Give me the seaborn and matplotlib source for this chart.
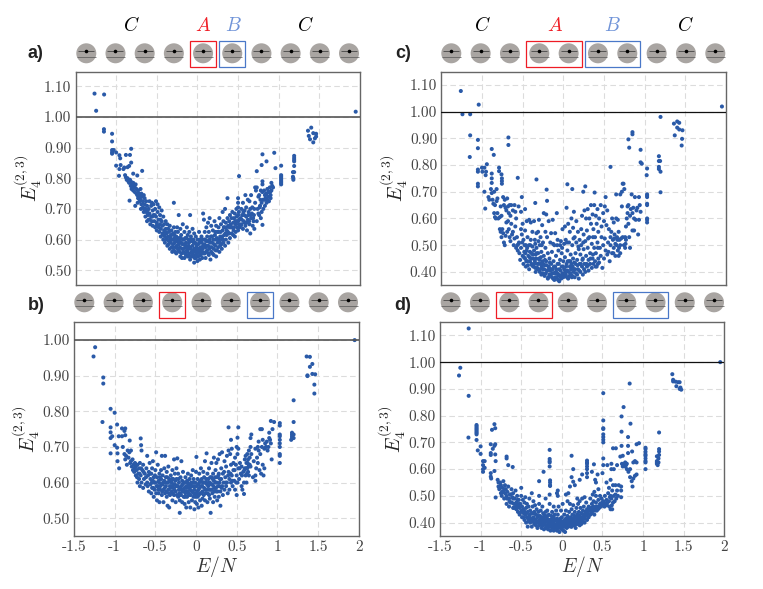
import pandas as pd
import matplotlib.pyplot as plt
import matplotlib.patches as mpatches
import seaborn as sns

# values: (E/N, E4)
pts_a = [
    (-1.266,1.076),(-1.148,1.073),(-1.246,1.02),(1.947,1.017),(-1.15,.96),(-1.15,.952),(-1.05,.945),(-1.05,.92),
    (-1.05,.892),(-1.05,.885),(-1.05,.88),(-1.03,.892),(-1.0,.884),(-.96,.875),(-.95,.865),(-1.0,.841),(-.945,.843),
    (-.965,.808),(-.96,.83),(-.91,.83),(-.88,.876),(-.83,.876),(-.815,.896),(-.815,.851),(-.86,.836),(-.79,.815),
    (-.74,.809),(-.68,.824),(-.835,.727),(-.765,.71),(-.9,.835),(-.84,.84),(-.89,.81),
    (-.88,.803),(-.87,.795),(-.86,.80),(-.85,.79),(-.84,.785),(-.83,.795),(-.82,.775),(-.82,.79),(-.81,.765),(-.80,.78),
    (-.80,.77),(-.79,.785),(-.79,.76),(-.78,.775),(-.77,.755),(-.77,.77),(-.76,.78),(-.75,.75),(-.75,.765),(-.74,.745),
    (-.73,.76),(-.73,.735),(-.72,.75),(-.71,.74),(-.71,.725),(-.70,.765),(-.70,.73),(-.69,.75),(-.69,.715),(-.68,.74),
    (-.67,.725),(-.67,.705),(-.66,.745),(-.66,.69),(-.65,.715),(-.65,.735),(-.64,.70),(-.64,.675),(-.63,.725),(-.63,.69),
    (-.62,.71),(-.62,.66),(-.61,.68),(-.60,.70),(-.60,.665),(-.59,.725),(-.59,.685),(-.58,.65),(-.57,.675),(-.57,.71),
    (-.56,.72),(-.56,.66),(-.55,.695),(-.55,.645),(-.54,.715),(-.54,.68),(-.53,.66),(-.52,.70),(-.52,.64),(-.51,.725),
    (-.51,.675),(-.50,.655),(-.50,.63),(-.49,.715),(-.49,.69),(-.48,.645),(-.48,.665),(-.47,.705),(-.47,.625),(-.46,.68),
    (-.46,.65),(-.45,.635),(-.45,.61),(-.44,.695),(-.44,.66),(-.43,.62),(-.43,.645),(-.42,.675),(-.42,.60),(-.41,.65),
    (-.41,.63),(-.40,.61),(-.40,.59),(-.39,.66),(-.39,.635),(-.38,.62),(-.38,.60),(-.37,.65),(-.37,.58),(-.36,.635),
    (-.36,.61),(-.35,.595),(-.35,.625),(-.34,.57),(-.34,.645),(-.33,.61),(-.33,.59),(-.32,.63),(-.32,.575),(-.31,.60),
    (-.31,.56),(-.30,.62),(-.30,.585),(-.29,.72),(-.29,.64),(-.29,.565),(-.28,.605),(-.28,.59),(-.27,.625),(-.27,.575),
    (-.26,.555),(-.26,.61),(-.25,.595),(-.25,.64),(-.24,.57),(-.24,.625),(-.23,.68),(-.23,.585),(-.22,.605),(-.22,.56),
    (-.21,.545),(-.21,.635),(-.20,.59),(-.20,.615),(-.19,.57),(-.19,.54),(-.18,.60),(-.18,.65),(-.17,.585),(-.17,.56),
    (-.16,.625),(-.16,.54),(-.15,.575),(-.15,.605),(-.14,.55),(-.14,.59),(-.13,.64),(-.13,.565),(-.12,.615),(-.12,.545),
    (-.11,.60),(-.11,.58),(-.10,.555),(-.10,.625),(-.09,.68),(-.09,.57),(-.09,.535),(-.08,.595),(-.08,.61),(-.07,.56),
    (-.07,.545),(-.06,.58),(-.06,.635),(-.05,.55),(-.05,.60),(-.04,.525),(-.04,.57),(-.04,.62),(-.03,.59),(-.03,.56),
    (-.02,.54),(-.02,.61),(-.01,.575),(-.01,.55),(0,.60),(0,.53),(.005,.565),(.01,.585),(.01,.545),(.02,.625),(.02,.56),
    (.03,.60),(.03,.535),(.04,.575),(.04,.55),(.05,.59),(.05,.61),(.06,.56),(.06,.54),(.07,.685),(.07,.58),(.08,.60),
    (.08,.665),(.09,.555),(.09,.625),(.10,.575),(.10,.54),(.11,.64),(.11,.595),(.12,.565),(.12,.61),(.13,.655),(.13,.58),
    (.14,.55),(.14,.625),(.15,.60),(.15,.67),(.16,.575),(.16,.535),(.17,.645),(.17,.56),(.18,.59),(.18,.61),(.19,.63),
    (.20,.57),(.20,.55),(.21,.60),(.21,.66),(.22,.58),(.22,.625),(.23,.545),(.23,.645),(.24,.565),(.24,.605),(.25,.59),
    (.26,.64),(.26,.625),(.27,.56),(.27,.67),(.28,.58),(.28,.61),(.29,.65),(.30,.60),(.30,.57),(.31,.63),(.31,.69),(.32,.66),
    (.32,.59),(.33,.615),(.33,.64),(.34,.58),(.34,.70),(.35,.655),(.35,.60),(.36,.63),(.36,.615),(.37,.67),(.37,.735),
    (.38,.59),(.38,.645),(.39,.62),(.39,.66),(.40,.68),(.40,.605),(.41,.64),(.41,.65),(.42,.62),(.42,.67),(.43,.69),
    (.44,.615),(.44,.655),(.45,.64),(.45,.67),(.46,.61),(.46,.685),(.47,.65),(.47,.625),(.48,.66),(.48,.70),(.49,.64),
    (.50,.735),(.50,.72),(.50,.705),(.50,.68),(.50,.66),(.50,.63),(.51,.69),(.51,.65),(.512,.807),(.52,.64),(.53,.67),
    (.54,.70),(.54,.65),(.55,.68),(.56,.635),(.56,.72),(.57,.66),(.58,.695),(.58,.655),(.59,.745),(.59,.645),(.60,.675),
    (.60,.705),(.61,.63),(.62,.665),(.62,.73),(.63,.69),(.64,.65),(.64,.725),(.65,.70),(.65,.62),(.66,.67),(.66,.745),
    (.67,.685),(.68,.645),(.69,.66),(.70,.70),(.70,.635),(.71,.77),(.71,.72),(.72,.76),(.73,.77),(.73,.66),(.74,.70),
    (.75,.685),(.75,.74),(.76,.745),(.76,.68),(.77,.71),(.78,.76),(.78,.67),(.79,.72),(.79,.69),(.80,.79),(.80,.755),
    (.80,.78),(.80,.648),(.81,.73),(.81,.70),(.82,.76),(.83,.745),(.83,.71),(.84,.735),(.85,.72),(.85,.75),(.86,.73),
    (.86,.765),(.87,.74),(.88,.725),(.88,.755),(.89,.77),(.90,.745),(.90,.735),(.91,.76),(.91,.785),(.92,.775),(.93,.77),
    (.80,.878),(.85,.855),(.945,.883),(.79,.843),(.73,.823),(.96,.833),(1.03,.841),
    (1.03,.81),(1.03,.805),(1.03,.80),(1.03,.795),(1.03,.79),(1.03,.785),(1.03,.78),
    (1.19,.873),(1.19,.866),(1.19,.86),(1.19,.855),(1.19,.84),(1.19,.82),(1.175,.82),(1.175,.805),(1.18,.80),(1.18,.795),
    (1.36,.955),(1.40,.965),(1.37,.938),(1.385,.927),(1.425,.917),(1.425,.947),(1.46,.945),(1.46,.936),(1.445,.93),
]
core_a = [
    (-.735,.72),(-.695,.70),(-.655,.70),(-.615,.695),(-.585,.665),(-.555,.675),(-.525,.68),(-.505,.645),(-.475,.64),(-.455,.665),
    (-.415,.615),(-.395,.625),(-.375,.605),(-.355,.585),(-.335,.60),(-.325,.615),(-.305,.575),(-.295,.60),(-.285,.615),(-.275,.56),
    (-.265,.595),(-.255,.58),(-.245,.605),(-.235,.565),(-.225,.595),(-.215,.575),(-.205,.605),(-.195,.555),(-.185,.585),(-.175,.57),
    (-.165,.60),(-.155,.555),(-.145,.58),(-.135,.605),(-.125,.56),(-.115,.57),(-.105,.59),(-.095,.545),(-.085,.575),(-.075,.60),
    (-.065,.555),(-.055,.565),(-.045,.59),(-.035,.54),(-.025,.57),(-.015,.585),(-.005,.555),(.015,.57),(.025,.59),(.035,.55),
    (.045,.565),(.055,.60),(.065,.57),(.075,.555),(.085,.585),(.095,.60),(.105,.56),(.115,.58),(.125,.595),(.135,.555),(.145,.57),
    (.155,.59),(.165,.61),(.175,.575),(.185,.555),(.195,.60),(.205,.585),(.215,.615),(.225,.565),(.235,.60),(.245,.625),(.255,.575),
    (.265,.60),(.275,.59),(.285,.625),(.295,.585),(.305,.61),(.315,.60),(.325,.64),(.345,.62),(.355,.64),(.375,.625),(.395,.64),
    (.425,.64),(.445,.63),(.465,.66),(.485,.675),(.515,.665),(.535,.645),(.545,.665),(.565,.69),(.575,.68),(.605,.655),(.625,.68),
    (.635,.66),(.655,.68),(.675,.705),(.685,.67),(.695,.68),(.765,.705),(.775,.73),(.825,.73),(.845,.75),(.875,.755),(.895,.755),
]
pts_b = [
    (-1.24,.98),(-1.26,.954),(-1.14,.895),(-1.14,.878),(-1.15,.77),(-1.05,.807),(-1.0,.796),(-.97,.763),(-1.05,.755),
    (-1.05,.741),(-1.05,.725),(-1.03,.73),(-1.0,.705),(-.97,.698),(-1.05,.682),(-.965,.682),(-.965,.66),(-.945,.64),
    (-.95,.73),(-.91,.73),(-.87,.752),(-.91,.752),(-.87,.733),(-.88,.745),(-.815,.718),(-.68,.724),(-.675,.705),(-.9,.70),
    (-.88,.68),(-.87,.665),(-.86,.675),(-.85,.65),(-.84,.69),(-.83,.67),(-.82,.685),(-.81,.655),(-.80,.66),(-.80,.69),
    (-.79,.645),(-.78,.665),(-.77,.65),(-.76,.63),(-.75,.655),(-.74,.62),(-.74,.645),(-.73,.635),(-.72,.60),(-.72,.65),
    (-.71,.625),(-.70,.61),(-.70,.64),(-.69,.59),(-.69,.655),(-.68,.62),(-.67,.69),(-.67,.60),(-.66,.635),(-.65,.585),
    (-.65,.65),(-.64,.61),(-.63,.625),(-.62,.595),(-.61,.64),(-.60,.60),(-.60,.675),(-.59,.62),(-.58,.575),(-.58,.63),
    (-.57,.655),(-.56,.595),(-.56,.61),(-.55,.57),(-.55,.625),(-.54,.585),(-.54,.64),(-.53,.605),(-.53,.66),(-.52,.56),
    (-.52,.615),(-.51,.58),(-.50,.60),(-.50,.635),(-.49,.57),(-.49,.685),(-.48,.55),(-.48,.615),(-.47,.59),(-.47,.65),
    (-.46,.605),(-.46,.57),(-.45,.625),(-.45,.545),(-.44,.59),(-.44,.58),(-.43,.61),(-.43,.635),(-.42,.565),(-.42,.675),
    (-.41,.595),(-.41,.62),(-.40,.545),(-.40,.58),(-.39,.605),(-.39,.64),(-.38,.57),(-.38,.675),(-.37,.59),(-.37,.615),
    (-.36,.56),(-.36,.63),(-.35,.60),(-.35,.535),(-.34,.58),(-.34,.645),(-.33,.61),(-.33,.53),(-.32,.565),(-.32,.59),
    (-.31,.62),(-.30,.575),(-.30,.60),(-.29,.55),(-.29,.635),(-.28,.585),(-.28,.61),(-.27,.665),(-.27,.565),(-.26,.625),
    (-.26,.595),(-.25,.575),(-.25,.545),(-.24,.61),(-.24,.64),(-.23,.59),(-.23,.668),(-.22,.56),(-.22,.625),(-.21,.60),
    (-.21,.58),(-.20,.55),(-.20,.515),(-.19,.615),(-.19,.57),(-.18,.66),(-.18,.59),(-.17,.605),(-.17,.545),(-.16,.575),
    (-.16,.63),(-.15,.56),(-.15,.60),(-.14,.585),(-.14,.54),(-.13,.615),(-.13,.57),(-.12,.59),(-.12,.53),(-.11,.605),
    (-.11,.56),(-.10,.625),(-.10,.575),(-.09,.545),(-.09,.595),(-.08,.61),(-.08,.565),(-.07,.58),(-.07,.53),(-.06,.62),
    (-.06,.60),(-.05,.55),(-.05,.575),(-.04,.635),(-.04,.59),(-.03,.56),(-.03,.61),(-.02,.525),(-.02,.58),(-.01,.545),
    (-.01,.60),(0,.63),(0,.57),(.005,.672),(.01,.59),(.01,.54),(.02,.61),(.02,.56),(.03,.58),(.03,.53),(.04,.625),(.04,.60),
    (.05,.55),(.05,.57),(.06,.59),(.06,.64),(.07,.61),(.07,.535),(.08,.575),(.08,.555),(.09,.60),(.09,.63),(.10,.585),
    (.10,.615),(.11,.55),(.11,.66),(.12,.60),(.12,.57),(.13,.58),(.13,.682),(.14,.625),(.14,.545),(.15,.59),(.15,.61),
    (.16,.565),(.16,.64),(.17,.60),(.17,.555),(.18,.58),(.18,.515),(.19,.615),(.19,.655),(.20,.595),(.20,.57),(.21,.625),
    (.21,.545),(.22,.605),(.22,.67),(.23,.56),(.23,.585),(.24,.635),(.24,.60),(.25,.655),(.25,.575),(.26,.615),(.26,.55),
    (.27,.59),(.27,.665),(.28,.625),(.28,.56),(.29,.60),(.29,.68),(.30,.575),(.30,.535),(.31,.64),(.31,.61),(.32,.59),
    (.32,.685),(.33,.625),(.33,.565),(.34,.60),(.35,.66),(.35,.58),(.36,.615),(.37,.645),(.37,.59),(.38,.675),(.38,.60),
    (.39,.57),(.40,.755),(.40,.69),(.40,.63),(.41,.61),(.41,.58),(.42,.68),(.43,.72),(.43,.65),(.43,.60),(.44,.695),(.44,.62),
    (.45,.59),(.46,.635),(.46,.655),(.47,.605),(.48,.67),(.48,.58),(.49,.65),(.50,.70),(.50,.62),(.50,.565),(.51,.726),(.51,.68),
    (.51,.60),(.52,.755),(.52,.695),(.52,.64),(.53,.61),(.54,.655),(.55,.625),(.56,.59),(.56,.645),(.57,.58),(.58,.63),
    (.59,.60),(.59,.568),(.60,.665),(.60,.64),(.61,.675),(.61,.62),(.62,.655),(.62,.60),(.63,.64),(.63,.68),(.64,.665),
    (.64,.63),(.65,.62),(.65,.69),(.66,.65),(.66,.67),(.67,.725),(.67,.70),(.67,.645),(.68,.735),(.68,.68),(.70,.615),(.71,.66),
    (.73,.605),(.73,.695),(.73,.62),(.74,.64),(.75,.67),(.76,.70),(.76,.655),(.77,.69),(.77,.715),(.78,.635),(.79,.75),
    (.79,.68),(.80,.625),(.81,.75),(.81,.70),(.82,.72),(.82,.65),(.83,.62),(.84,.695),(.84,.64),(.85,.71),(.86,.70),(.87,.715),
    (.88,.69),(.89,.70),(.90,.725),(.90,.74),(.91,.72),(.92,.71),(.92,.773),(.93,.665),(.94,.75),(.96,.77),
    (1.03,.767),(1.03,.76),(1.03,.735),(1.03,.73),(1.03,.72),(1.03,.71),(1.03,.70),(1.03,.68),(1.03,.675),(1.03,.655),
    (1.2,.831),(1.2,.77),(1.95,1.0),(1.36,.954),(1.40,.953),(1.40,.925),(1.43,.933),(1.37,.901),(1.37,.899),(1.43,.905),
    (1.465,.904),(1.455,.875),(1.455,.85),(1.18,.74),(1.18,.735),(1.18,.73),(1.18,.725),(1.17,.72),(1.2,.735),(1.2,.725),
]
core_b = [
    (-.775,.635),(-.755,.64),(-.725,.615),(-.695,.625),(-.675,.64),(-.645,.63),(-.615,.615),(-.595,.59),(-.565,.625),(-.545,.60),
    (-.525,.585),(-.515,.60),(-.505,.62),(-.485,.59),(-.465,.58),(-.455,.60),(-.445,.615),(-.425,.595),(-.415,.575),(-.405,.60),
    (-.385,.585),(-.375,.60),(-.365,.575),(-.355,.615),(-.345,.60),(-.335,.57),(-.325,.605),(-.315,.585),(-.305,.59),(-.295,.61),
    (-.285,.57),(-.275,.595),(-.265,.58),(-.255,.605),(-.245,.59),(-.235,.565),(-.225,.59),(-.215,.61),(-.205,.57),(-.195,.585),
    (-.185,.565),(-.175,.58),(-.165,.595),(-.155,.58),(-.145,.60),(-.135,.56),(-.125,.575),(-.115,.585),(-.105,.60),(-.095,.57),
    (-.085,.585),(-.075,.595),(-.065,.565),(-.055,.59),(-.045,.575),(-.035,.60),(-.025,.57),(-.015,.59),(-.005,.56),(.015,.575),
    (.025,.595),(.035,.565),(.045,.585),(.055,.605),(.065,.57),(.075,.59),(.085,.60),(.095,.565),(.105,.60),(.115,.58),(.125,.61),
    (.135,.595),(.145,.57),(.155,.60),(.165,.58),(.175,.615),(.185,.595),(.195,.58),(.205,.61),(.215,.59),(.225,.575),(.235,.615),
    (.245,.585),(.255,.60),(.265,.575),(.275,.62),(.285,.59),(.295,.61),(.315,.585),(.345,.63),(.365,.60),(.395,.62),(.425,.625),
    (.445,.605),(.475,.635),(.495,.60),(.535,.64),(.565,.62),(.595,.635),(.615,.64),(.625,.625),(.635,.655),(.645,.645),
]
pts_c = [
    (-1.26,1.077),(-1.04,1.026),(-1.24,.99),(-1.145,.99),(-1.145,.911),(-1.15,.83),(-1.05,.894),(-1.05,.863),(-.675,.903),
    (-.675,.875),(-.88,.86),(-.855,.838),(-.94,.803),(-1,.79),(-.97,.79),(-1.05,.783),(-1.05,.775),(-.995,.775),(-.95,.775),
    (-.955,.762),(-1.05,.73),(-1.05,.72),(-.97,.70),(-.96,.637),(-.88,.768),(-.88,.75),(-.88,.733),(-.79,.79),(-.79,.777),
    (-.76,.765),(-.755,.75),(-.755,.74),(-.755,.73),(-.56,.752),(-.33,.746),(-.205,.708),(-.2,.666),(-.345,.658),(.05,.728),
    (.11,.71),(.27,.72),(.245,.70),(.385,.697),(-.51,.68),(.58,.793),(.8,.896),(.81,.865),(.85,.923),(.85,.915),(.95,.857),
    (.95,.81),(.965,.805),(1.03,.787),(1.025,.762),(1.175,.833),(1.175,.815),(1.19,.815),(1.175,.793),(1.175,.785),(1.195,.775),
    (1.195,.698),(1.195,.98),(1.95,1.019),(1.36,.955),(1.4,.963),(1.425,.958),(1.4,.94),(1.425,.933),(1.465,.93),(1.37,.911),
    (1.46,.898),(1.455,.873),(1.03,.69),(1.03,.685),(1.03,.68),(1.03,.655),(1.03,.65),(1.03,.60),(1.03,.595),(1.03,.585),
    (-.89,.71),(-.88,.695),(-.85,.70),(-.82,.71),(-.92,.68),(-.91,.67),(-.87,.67),(-.86,.655),(-.84,.65),(-.82,.665),(-.81,.675),
    (-.85,.62),(-.84,.605),(-.83,.60),(-.81,.62),(-.80,.60),(-.78,.605),(-.76,.61),(-.77,.645),(-.74,.68),(-.73,.65),(-.72,.67),
    (-.71,.64),(-.70,.63),(-.69,.675),(-.68,.645),(-.67,.62),(-.66,.65),(-.65,.61),(-.64,.65),(-.62,.63),(-.60,.65),(-.59,.625),
    (-.58,.60),(-.55,.645),(-.52,.625),(-.47,.635),(-.78,.56),(-.77,.55),(-.76,.53),(-.75,.56),(-.74,.545),(-.73,.51),(-.72,.50),
    (-.71,.535),(-.70,.585),(-.69,.55),(-.68,.59),(-.67,.56),(-.66,.53),(-.65,.515),(-.64,.58),(-.63,.54),(-.62,.55),(-.61,.50),
    (-.60,.525),(-.59,.57),(-.58,.49),(-.57,.53),(-.56,.48),(-.55,.505),(-.54,.47),(-.53,.445),(-.52,.56),(-.52,.49),(-.51,.54),
    (-.50,.58),(-.50,.46),(-.49,.43),(-.49,.52),(-.48,.475),(-.47,.555),(-.47,.45),(-.46,.50),(-.46,.42),(-.45,.59),(-.45,.48),
    (-.44,.44),(-.44,.53),(-.43,.46),(-.42,.595),(-.42,.41),(-.42,.50),(-.41,.475),(-.41,.44),(-.40,.585),(-.40,.52),(-.39,.43),
    (-.39,.47),(-.38,.55),(-.38,.495),(-.37,.45),(-.37,.42),(-.36,.59),(-.36,.48),(-.35,.44),(-.35,.52),(-.34,.465),(-.34,.40),
    (-.33,.545),(-.33,.49),(-.32,.43),(-.32,.415),(-.31,.47),(-.31,.55),(-.30,.45),(-.30,.595),(-.29,.50),(-.29,.40),(-.28,.43),
    (-.28,.53),(-.27,.475),(-.27,.39),(-.26,.44),(-.26,.575),(-.25,.41),(-.25,.51),(-.24,.46),(-.24,.62),(-.23,.425),(-.23,.385),
    (-.22,.55),(-.22,.49),(-.21,.44),(-.21,.615),(-.20,.405),(-.20,.53),(-.19,.375),(-.19,.47),(-.18,.42),(-.18,.59),(-.17,.39),
    (-.17,.45),(-.16,.51),(-.16,.405),(-.15,.545),(-.15,.43),(-.14,.38),(-.14,.475),(-.13,.41),(-.13,.595),(-.12,.44),(-.12,.395),
    (-.11,.50),(-.11,.37),(-.10,.42),(-.10,.545),(-.09,.46),(-.09,.40),(-.08,.38),(-.08,.62),(-.07,.43),(-.07,.52),(-.06,.39),
    (-.06,.48),(-.05,.41),(-.05,.365),(-.04,.445),(-.04,.50),(-.03,.38),(-.03,.515),(-.02,.42),(-.02,.47),(-.01,.395),(-.01,.56),
    (0,.44),(0,.38),(.01,.505),(.01,.41),(.02,.57),(.02,.455),(.03,.39),(.03,.52),(.04,.43),(.04,.64),(.05,.48),(.05,.405),(.06,.58),
    (.06,.375),(.07,.44),(.07,.51),(.08,.42),(.08,.55),(.09,.465),(.09,.395),(.10,.60),(.10,.43),(.11,.50),(.11,.385),(.12,.565),
    (.12,.45),(.13,.41),(.13,.625),(.14,.53),(.14,.38),(.15,.47),(.15,.43),(.16,.59),(.16,.51),(.17,.39),(.17,.445),(.18,.55),(.18,.41),
    (.19,.485),(.19,.375),(.20,.52),(.20,.43),(.21,.465),(.21,.40),(.22,.56),(.22,.50),(.23,.42),(.23,.61),(.24,.45),(.24,.39),(.25,.54),
    (.25,.485),(.26,.63),(.26,.43),(.27,.40),(.27,.515),(.28,.60),(.28,.46),(.29,.555),(.29,.42),(.30,.635),(.30,.49),(.31,.445),(.31,.405),
    (.32,.53),(.32,.60),(.33,.47),(.33,.43),(.34,.65),(.34,.58),(.35,.505),(.35,.415),(.36,.45),(.36,.615),(.37,.56),(.37,.43),(.38,.49),
    (.38,.65),(.39,.53),(.39,.44),(.40,.61),(.40,.47),(.41,.42),(.41,.58),(.42,.635),(.42,.51),(.43,.45),(.43,.55),(.44,.60),(.44,.435),
    (.45,.49),(.46,.65),(.46,.46),(.47,.53),(.47,.57),(.48,.415),(.49,.62),(.49,.50),(.50,.45),(.50,.59),(.51,.645),(.51,.525),(.52,.48),
    (.52,.68),(.53,.575),(.54,.465),(.54,.63),(.55,.51),(.56,.56),(.57,.44),(.58,.53),(.58,.50),(.59,.55),(.60,.47),(.60,.60),(.61,.52),
    (.62,.49),(.62,.585),(.63,.54),(.64,.46),(.64,.505),(.65,.69),(.65,.60),(.66,.53),(.67,.48),(.67,.595),(.68,.46),(.68,.55),(.69,.52),
    (.70,.50),(.70,.47),(.70,.69),(.71,.525),(.72,.645),(.72,.70),(.73,.53),(.73,.73),(.74,.73),(.75,.71),(.76,.53),(.76,.49),(.77,.57),
    (.77,.52),(.78,.60),(.79,.62),(.79,.645),(.80,.58),(.80,.65),(.81,.53),(.82,.49),(.82,.61),(.83,.635),(.84,.69),(.85,.555),(.85,.62),
    (.86,.64),(.87,.555),(.88,.68),(.89,.595),(.90,.63),(.91,.64),(.92,.54),(.93,.68),(.94,.65),(.95,.625),(.93,.595),(.87,.60),
]
core_c = [
    (-.485,.455),(-.465,.47),(-.455,.44),(-.435,.425),(-.415,.455),(-.395,.45),(-.385,.425),(-.375,.465),(-.355,.43),(-.345,.415),
    (-.335,.45),(-.325,.47),(-.315,.41),(-.305,.43),(-.295,.445),(-.285,.41),(-.275,.455),(-.265,.42),(-.255,.395),(-.245,.43),
    (-.235,.41),(-.225,.445),(-.215,.395),(-.205,.425),(-.195,.405),(-.185,.38),(-.175,.415),(-.165,.435),(-.155,.39),(-.145,.41),
    (-.135,.395),(-.125,.375),(-.115,.42),(-.105,.395),(-.095,.38),(-.085,.41),(-.075,.395),(-.065,.37),(-.055,.43),(-.045,.385),
    (-.035,.405),(-.025,.375),(-.015,.39),(-.005,.42),(.015,.385),(.025,.40),(.035,.42),(.045,.38),(.055,.44),(.065,.40),(.075,.385),
    (.085,.44),(.095,.41),(.105,.38),(.115,.42),(.125,.40),(.135,.435),(.145,.41),(.155,.395),(.175,.425),(.195,.405),(.215,.43),
    (.235,.445),(.255,.41),(.285,.43),(.305,.425),(.335,.45),(.365,.465),(.395,.42),(.425,.43),
    (-.565,.50),(-.545,.51),(-.505,.51),(-.475,.50),(-.445,.49),(-.405,.50),(-.345,.505),(-.305,.515),(-.265,.50),(-.125,.505),
    (-.075,.50),(-.015,.49),(.045,.51),(.125,.525),(.185,.495),(.245,.51),(.305,.525),(.365,.53),(.425,.49),(.555,.475),(.615,.47),
    (.655,.50),(.685,.49),(.745,.50),(.765,.505),(.665,.52),(.625,.525),
]
pts_d = [
    (-1.147,1.126),(-1.25,.979),(-1.266,.95),(-1.147,.874),(-1.15,.718),(-1.05,.765),(-1.05,.76),(-1.05,.755),(-1.05,.75),
    (-1.05,.745),(-1.05,.74),(-1.05,.735),(-1.05,.73),(-1.05,.709),(-1.035,.67),(-1.0,.685),(-1.0,.657),(-.97,.63),(-.95,.63),
    (-.97,.615),(-.95,.605),(-.97,.60),(-.97,.59),(-.875,.693),(-.86,.747),(-.83,.768),(-.82,.753),(-.82,.693),(-.83,.687),
    (-.85,.676),(-.875,.66),(-.875,.653),(-.82,.655),(-.875,.585),(-.875,.572),(-.87,.565),(-.815,.63),(-.83,.593),(-.815,.494),
    (-.68,.647),(-.68,.64),(-.66,.615),(-.605,.608),(-.15,.672),(-.15,.638),(-.15,.63),(-.15,.625),(-.15,.61),(-.225,.59),
    (-.145,.558),(-.145,.55),(-.145,.54),(-.145,.537),(.12,.65),(.14,.60),(.12,.57),(.14,.553),(.16,.54),(.31,.632),(.31,.625),
    (.31,.62),(.31,.61),(.31,.60),(.31,.585),(.31,.57),(.395,.618),(.51,.884),(.51,.782),(.51,.753),(.51,.75),(.51,.73),(.51,.72),
    (.51,.71),(.51,.70),(.51,.64),(.51,.615),(.56,.615),(.5,.585),(.61,.60),(.61,.62),(.63,.678),(.76,.832),(.735,.797),(.735,.74),
    (.835,.92),(.845,.77),(.815,.72),(.735,.687),(.815,.687),(.665,.678),(.92,.693),(.95,.697),(.865,.666),(.72,.647),(.75,.65),
    (.815,.66),(.74,.62),(.75,.61),(.76,.615),(.77,.62),(.78,.61),(.79,.615),(.80,.60),(.78,.625),(.80,.62),(.82,.59),(.84,.57),
    (.86,.555),(.87,.535),(.88,.625),(.90,.63),(.92,.625),(.90,.575),(.92,.58),(.88,.565),(.84,.60),(.68,.615),(.64,.60),
    (1.03,.68),(1.03,.675),(1.03,.665),(1.03,.655),(1.03,.65),(1.03,.64),(1.03,.63),(1.03,.625),(1.03,.60),
    (1.197,.737),(1.197,.675),(1.197,.666),(1.197,.653),(1.17,.648),(1.17,.63),(1.17,.625),(1.17,.62),(1.18,.615),(1.19,.64),(1.19,.625),
    (1.36,.955),(1.37,.934),(1.37,.928),(1.4,.927),(1.45,.925),(1.41,.91),(1.45,.90),(1.47,.897),(1.43,.925),(1.46,.905),(1.95,1.0),
    (.37,.59),(.41,.56),(.42,.55),(.44,.58),(.25,.58),(.22,.56),(.1,.535),(.08,.51),(-.05,.50),(-.05,.52),(-.06,.51),(.05,.505),
    (-.28,.555),(-.28,.50),(-.37,.51),(-.15,.505),(-.2,.49),(-.1,.46),(.19,.49),(.22,.48),(.28,.495),(.38,.505),(.4,.515),(.55,.55),(.58,.53),
    (.6,.56),(.63,.54),(.66,.54),(.7,.54),(.73,.535),(.73,.52),(.73,.495),(.45,.525),(.47,.50),(.6,.50),(.62,.52),
    (-.79,.56),(-.78,.55),(-.78,.535),(-.77,.525),(-.76,.55),(-.75,.51),(-.75,.54),(-.74,.50),(-.73,.53),(-.72,.555),(-.72,.515),(-.71,.49),
    (-.70,.54),(-.70,.51),(-.69,.525),(-.68,.47),(-.68,.50),(-.67,.515),(-.66,.535),(-.65,.46),(-.65,.49),(-.64,.505),(-.63,.475),(-.62,.525),
    (-.61,.495),(-.60,.455),(-.60,.51),(-.59,.47),(-.58,.49),(-.57,.52),(-.56,.45),(-.56,.475),(-.55,.50),(-.54,.44),(-.54,.465),(-.53,.485),
    (-.52,.43),(-.52,.455),(-.51,.47),(-.50,.53),(-.50,.50),(-.50,.44),(-.49,.42),(-.49,.46),(-.48,.485),(-.47,.435),(-.47,.45),(-.46,.41),
    (-.46,.475),(-.45,.495),(-.45,.43),(-.44,.455),(-.44,.40),(-.43,.42),(-.43,.47),(-.42,.44),(-.42,.385),(-.41,.405),(-.41,.46),(-.40,.425),
    (-.40,.49),(-.39,.445),(-.39,.40),(-.38,.415),(-.37,.435),(-.37,.385),(-.36,.46),(-.36,.405),(-.35,.42),(-.35,.48),(-.34,.395),(-.34,.44),
    (-.33,.41),(-.33,.465),(-.32,.43),(-.32,.39),(-.31,.40),(-.31,.45),(-.30,.42),(-.30,.38),(-.29,.44),(-.29,.405),(-.28,.39),(-.28,.47),
    (-.27,.425),(-.27,.41),(-.26,.395),(-.26,.445),(-.25,.38),(-.25,.42),(-.24,.405),(-.24,.46),(-.23,.39),(-.23,.435),(-.22,.41),(-.22,.375),
    (-.21,.425),(-.21,.395),(-.20,.44),(-.20,.38),(-.19,.405),(-.19,.42),(-.18,.39),(-.18,.445),(-.17,.375),(-.17,.41),(-.16,.43),(-.16,.395),
    (-.15,.385),(-.15,.47),(-.14,.41),(-.14,.37),(-.13,.425),(-.13,.395),(-.12,.38),(-.12,.44),(-.11,.405),(-.11,.39),(-.10,.37),(-.10,.42),
    (-.09,.395),(-.09,.43),(-.08,.38),(-.08,.41),(-.07,.39),(-.07,.445),(-.06,.37),(-.06,.415),(-.05,.40),(-.05,.43),(-.04,.38),(-.04,.46),
    (-.03,.395),(-.03,.365),(-.02,.415),(-.02,.385),(-.01,.40),(-.01,.445),(0,.375),(0,.42),(.01,.39),(.01,.47),(.02,.405),(.02,.37),(.03,.43),
    (.03,.385),(.04,.40),(.04,.365),(.05,.415),(.05,.445),(.06,.38),(.06,.395),(.07,.425),(.07,.48),(.08,.40),(.08,.385),(.09,.44),(.09,.41),
    (.10,.39),(.10,.47),(.11,.42),(.11,.40),(.12,.385),(.12,.45),(.13,.405),(.13,.43),(.14,.395),(.14,.465),(.15,.415),(.15,.39),(.16,.44),
    (.16,.40),(.17,.42),(.17,.38),(.18,.455),(.18,.405),(.19,.43),(.19,.395),(.20,.415),(.20,.47),(.21,.40),(.21,.44),(.22,.39),(.22,.425),
    (.23,.41),(.23,.455),(.24,.435),(.24,.395),(.25,.42),(.25,.49),(.26,.405),(.26,.445),(.27,.43),(.27,.46),(.28,.415),(.28,.40),(.29,.44),
    (.30,.425),(.30,.475),(.31,.45),(.31,.41),(.32,.435),(.33,.46),(.33,.42),(.34,.445),(.35,.49),(.35,.43),(.36,.455),(.37,.47),(.37,.435),
    (.38,.445),(.39,.48),(.39,.46),(.40,.43),(.41,.45),(.42,.475),(.42,.50),(.43,.445),(.44,.46),(.45,.485),(.46,.455),(.47,.47),(.48,.46),
    (.49,.49),(.50,.465),(.51,.48),(.52,.475),(.53,.50),(.54,.47),(.55,.485),(.56,.475),(.57,.51),(.58,.48),(.59,.495),(.60,.45),(.61,.49),
    (.62,.45),(.63,.475),(.64,.50),(.65,.48),(.66,.505),(.67,.49),(.68,.52),(.69,.50),
]
core_d = [
    (-.765,.53),(-.735,.515),(-.705,.525),(-.675,.49),(-.645,.48),(-.615,.475),(-.585,.455),(-.555,.46),(-.525,.47),(-.495,.445),
    (-.475,.42),(-.455,.44),(-.435,.435),(-.415,.415),(-.395,.43),(-.375,.405),(-.355,.435),(-.345,.415),(-.325,.41),(-.305,.405),
    (-.295,.425),(-.275,.40),(-.265,.41),(-.245,.39),(-.235,.42),(-.225,.395),(-.215,.41),(-.205,.425),(-.195,.39),(-.185,.405),
    (-.175,.425),(-.165,.385),(-.155,.41),(-.145,.395),(-.135,.41),(-.125,.385),(-.115,.42),(-.105,.395),(-.095,.41),(-.085,.39),
    (-.075,.41),(-.065,.395),(-.055,.385),(-.045,.41),(-.035,.39),(-.025,.40),(-.015,.38),(-.005,.405),(.015,.40),(.025,.385),
    (.035,.41),(.045,.39),(.055,.40),(.065,.41),(.075,.39),(.085,.415),(.095,.395),(.105,.41),(.115,.385),(.125,.405),(.135,.415),
    (.145,.40),(.155,.425),(.165,.405),(.175,.395),(.185,.42),(.195,.41),(.205,.40),(.215,.425),(.225,.405),(.245,.415),(.265,.42),
    (.285,.43),(.305,.44),(.325,.45),(.345,.43),(.365,.44),(.385,.455),(.405,.445),(.425,.46),(.445,.45),(.465,.46),(.495,.475),
    (.525,.46),(.555,.465),(.585,.46),(.615,.465),(-.63,.505),(-.60,.49),(-.575,.47),(-.545,.485),
]

panels = ["a", "b", "c", "d"]
data = {"a": pts_a + core_a, "b": pts_b + core_b, "c": pts_c + core_c, "d": pts_d + core_d}
# axes boxes in pixels: left, top, right, bottom
boxes = {"a": (75.5, 71.5, 360, 285), "b": (74, 322.3, 358.7, 536),
         "c": (441.3, 71.5, 726, 285), "d": (440, 322.3, 724.3, 536)}
ylims = {"a": (.452, 1.148), "b": (.45, 1.05), "c": (.351, 1.15), "d": (.35, 1.149)}
yticks = {"a": [.5, .6, .7, .8, .9, 1.0, 1.1], "b": [.5, .6, .7, .8, .9, 1.0],
          "c": [.4, .5, .6, .7, .8, .9, 1.0, 1.1], "d": [.4, .5, .6, .7, .8, .9, 1.0, 1.1]}
xticks = [-1.5, -1, -0.5, 0, 0.5, 1, 1.5, 2]
xticklabels = ["-1.5", "-1", "-0.5", "0", "0.5", "1", "1.5", "2"]
one_lines = {"a": ("#555555", 1.2), "b": ("#555555", 1.2), "c": ("#111111", 0.9), "d": ("#111111", 0.9)}

# row of icons: first centre, last centre, centre height
icons = {"a": (86.3, 349, 53.3), "b": (84.3, 348, 302.3), "c": (451.3, 715.3, 53.3), "d": (450.7, 714, 302.3)}
red_boxes = {"a": (190, 41, 215.7, 67), "b": (159.3, 292.3, 185.3, 318.3),
             "c": (526.3, 41, 581.7, 66.5), "d": (496.3, 292.3, 551.7, 318.3)}
blue_boxes = {"a": (218.7, 41, 245, 67), "b": (247.3, 292.3, 273.3, 318.3),
              "c": (585, 41, 640.3, 66.5), "d": (613.3, 292.3, 668.3, 318.3)}
letters = {"a": (27, 54), "b": (28, 305), "c": (395, 54), "d": (394, 305)}
top_labels = [(131, "$C$", "black"), (203, "$A$", "#f02028"), (233, "$B$", "#6f93d8"), (305, "$C$", "black"),
              (482, "$C$", "black"), (555, "$A$", "#f02028"), (612.7, "$B$", "#6f93d8"), (685, "$C$", "black")]

W, H = 763, 589
sns.set_theme(style="whitegrid")
plt.rcParams["font.family"] = ["cmr10", "DejaVu Serif"]
plt.rcParams["mathtext.fontset"] = "cm"
plt.rcParams["axes.formatter.use_mathtext"] = True

fig = plt.figure(figsize=(W / 100, H / 100), dpi=100)

for p in panels:
    l, t, r, b = boxes[p]
    ax = fig.add_axes([l / W, 1 - b / H, (r - l) / W, (b - t) / H])
    df = pd.DataFrame(data[p], columns=["en", "e4"])
    sns.scatterplot(data=df, x="en", y="e4", ax=ax, s=8.5, color="#2a5aa8", linewidth=0, edgecolor="none", zorder=3)
    col, lw = one_lines[p]
    ax.axhline(1.0, color=col, lw=lw, zorder=4)
    ax.set_xlim(-1.5, 2)
    ax.set_ylim(*ylims[p])
    ax.set_xticks(xticks)
    ax.set_yticks(yticks[p])
    ax.set_yticklabels(["%.2f" % v for v in yticks[p]])
    ax.grid(True, color="#dcdcdc", ls=(0, (5, 3)), lw=0.8)
    ax.tick_params(length=0, labelsize=11, labelcolor="#444444", pad=3)
    for s in ax.spines.values():
        s.set_color("#666666")
        s.set_linewidth(1.0)
    if p in ("b", "d"):
        ax.set_xticklabels(xticklabels)
        ax.set_xlabel("$E/N$", fontsize=14, color="#333333", labelpad=0)
    else:
        ax.set_xticklabels([])
        ax.set_xlabel("")
    ax.set_ylabel(r"$E_4^{(2,3)}$", fontsize=14, color="#222222", labelpad=0)

# overlay in pixel units for the icons
over = fig.add_axes([0, 0, 1, 1], zorder=10)
over.set_xlim(0, W)
over.set_ylim(H, 0)
over.axis("off")

for p in panels:
    x0, x1, y0 = icons[p]
    step = (x1 - x0) / 9
    for i in range(10):
        cx = x0 + i * step
        over.add_patch(mpatches.Circle((cx, y0), 10, color="#a9a5a2", lw=0))
        over.plot([cx - 8, cx + 8], [y0 - 2.3, y0 - 2.3], color="#333333", lw=0.5, solid_capstyle="butt")
        over.plot([cx - 9.5, cx + 9.5], [y0 + 4, y0 + 4], color="#555555", lw=0.5, solid_capstyle="butt")
        over.plot([cx], [y0 - 2.3], "o", ms=2.6, color="black", mew=0)
    for rect, col in ((red_boxes[p], "#ee1c25"), (blue_boxes[p], "#4a78c8")):
        xa, ya, xb, yb = rect
        over.add_patch(mpatches.Rectangle((xa, ya), xb - xa, yb - ya, fill=False, ec=col, lw=0.9))
    lx, ly = letters[p]
    over.text(lx, ly, p + ")", fontsize=13, fontweight="bold", family="Liberation Sans", color="#222222",
              ha="left", va="center")

for x, s, col in top_labels:
    over.text(x, 25.7, s, fontsize=14, color=col, ha="center", va="center")

plt.savefig("out.png", dpi=100)
